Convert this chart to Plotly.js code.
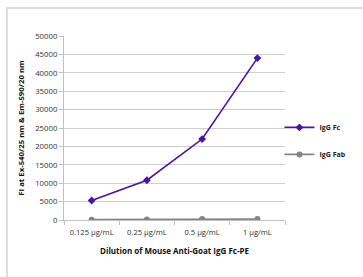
<!DOCTYPE html>
<html><head><meta charset="utf-8">
<script src="https://cdn.plot.ly/plotly-3.0.1.min.js"></script>
<style>
html,body{margin:0;padding:0;background:#fff;overflow:hidden;}
#chart{position:absolute;left:0;top:0;width:363px;height:277px;}
#frame{position:absolute;left:6px;top:7px;width:400px;height:300px;border:2px solid #dedede;box-sizing:border-box;z-index:10;pointer-events:none;}
</style>
</head><body>
<div id="chart"></div>
<div id="frame"></div>
<script>
const categories = ["0.125 µg/mL", "0.25 µg/mL", "0.5 µg/mL", "1 µg/mL"];
const iggFc = [5300, 10800, 22000, 44000];
const iggFab = [100, 150, 250, 250];
const yTicks = [0, 5000, 10000, 15000, 20000, 25000, 30000, 35000, 40000, 45000, 50000];
const yTickText = yTicks.map(String);

const traces = [
  {x: categories, y: iggFc, name: "IgG Fc", legendgroup: "a", type: "scatter", mode: "lines+markers",
   line: {color: "#4a12a6", width: 1.6}, marker: {symbol: "diamond", size: 6, color: "#4a12a6"}},
  {x: categories, y: iggFab, name: "IgG Fab", legendgroup: "b", type: "scatter", mode: "lines+markers",
   line: {color: "#858585", width: 1.6}, marker: {symbol: "circle", size: 6, color: "#858585"}}
];

const layout = {
  width: 363, height: 277,
  margin: {l: 64, r: 73, t: 36, b: 57},
  paper_bgcolor: "rgba(0,0,0,0)", plot_bgcolor: "rgba(0,0,0,0)",
  font: {family: "Open Sans, sans-serif", size: 7.5, color: "#333"},
  showlegend: true,
  legend: {x: 0.975, y: 0.43, xanchor: "left", yanchor: "middle", font: {size: 7, color: "#222", weight: "bold"},
           traceorder: "grouped", tracegroupgap: 8, itemwidth: 30, bgcolor: "rgba(0,0,0,0)"},
  xaxis: {type: "category", range: [-0.5, 3.5], showgrid: false, showline: true, linecolor: "#c0c0c0", linewidth: 1,
          ticks: "outside", tickson: "boundaries", ticklen: 4, tickcolor: "#c0c0c0", tickangle: 0,
          ticklabelstandoff: 5,
          tickfont: {size: 7.6, color: "#333"},
          title: {text: "<b>Dilution of Mouse Anti-Goat IgG Fc-PE</b>", font: {size: 8, color: "#111"}, standoff: 12}},
  yaxis: {range: [0, 50000], tickvals: yTicks, ticktext: yTickText, showgrid: true, gridcolor: "#cfcfcf", gridwidth: 1,
          showline: true, linecolor: "#c0c0c0", ticks: "outside", ticklen: 4, tickcolor: "#c0c0c0",
          zeroline: false, tickfont: {size: 7.8, color: "#333"},
          title: {text: "<b>FI at Ex-540/25 nm & Em-590/20 nm</b>", font: {size: 7.8, color: "#111"}, standoff: 9}}
};

Plotly.newPlot("chart", traces, layout, {displayModeBar: false, staticPlot: true});
</script>
</body></html>
